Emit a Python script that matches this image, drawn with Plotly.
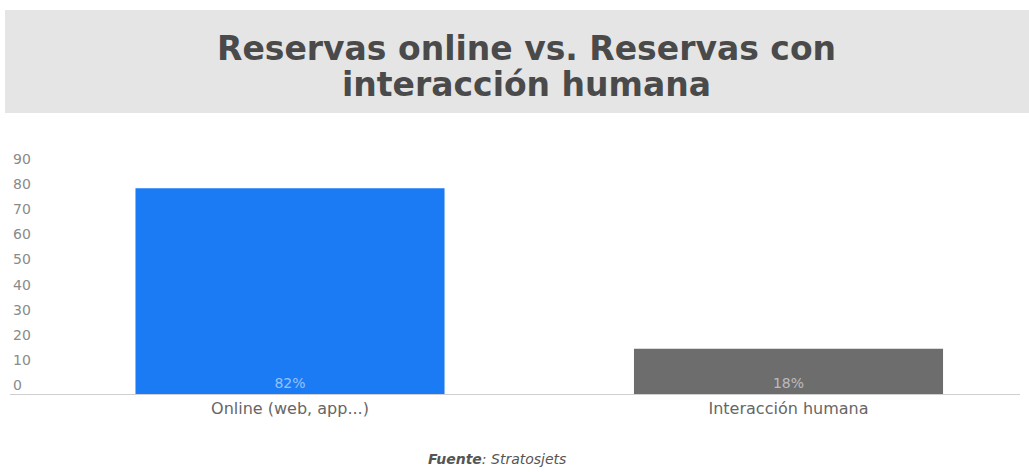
import plotly.graph_objects as go

categories = ["Online (web, app...)", "Interacción humana"]
values = [82, 18]
labels = ["82%", "18%"]
colors = ["#1a7bf4", "#6d6d6d"]
y_ticks = [0, 10, 20, 30, 40, 50, 60, 70, 80, 90]
title_lines = ["Reservas online vs. Reservas con", "interacción humana"]

W, H = 1029, 472
YMAX = 102
base_px = 394
px_per_unit = 2.51
top_px = base_px - YMAX * px_per_unit
L, R, T, B = 10, 9, top_px, H - base_px
pw, ph = W - L - R, H - T - B

def px(x):
    return (x - L) / pw

def py(y):
    return (H - B - y) / ph

FONT = "DejaVu Sans"

fig = go.Figure(go.Bar(
    x=[0, 1], y=values, text=labels,
    marker=dict(color=colors, line=dict(width=0)),
    textposition="inside", insidetextanchor="start",
    textfont=dict(family=FONT, size=14, color="rgba(255,255,255,0.55)"),
    hoverinfo="skip",
))

# category centers at px 290 and 788.5
unit = 498.5
x0 = -(290 - L) / unit
x1 = x0 + pw / unit

fig.update_layout(
    width=W, height=H,
    margin=dict(l=L, r=R, t=T, b=B),
    paper_bgcolor="white", plot_bgcolor="white",
    bargap=0.38, showlegend=False,
    font=dict(family=FONT),
    xaxis=dict(range=[x0, x1], tickmode="array", tickvals=[0, 1], ticktext=categories,
               showgrid=False, zeroline=False, showline=True, linecolor="#cfcfcf",
               linewidth=1, ticks="", tickfont=dict(size=16, color="#666666")),
    yaxis=dict(range=[0, YMAX], tickmode="array", tickvals=y_ticks,
               ticktext=[str(v) for v in y_ticks], showgrid=False, zeroline=False,
               showline=False, ticks="", ticklabelposition="inside", ticklabelshift=-9,
               ticklabelstandoff=0, tickfont=dict(size=14, color="#8a8a8a")),
    shapes=[dict(type="rect", xref="paper", yref="paper",
                 x0=px(5), x1=px(1032), y0=py(113), y1=py(10),
                 fillcolor="#e5e5e5", line=dict(width=0), layer="below")],
    annotations=[
        dict(xref="paper", yref="paper", x=px(526), y=py(48), xanchor="center", yanchor="middle",
             text="<b>" + title_lines[0] + "</b>", showarrow=False,
             font=dict(family=FONT, size=33, color="#4a4a4a")),
        dict(xref="paper", yref="paper", x=px(526), y=py(84), xanchor="center", yanchor="middle",
             text="<b>" + title_lines[1] + "</b>", showarrow=False,
             font=dict(family=FONT, size=33, color="#4a4a4a")),
        dict(xref="paper", yref="paper", x=px(497), y=py(459), xanchor="center", yanchor="middle",
             text="<b><i>Fuente</i></b><i>: Stratosjets</i>", showarrow=False,
             font=dict(family=FONT, size=14, color="#555555")),
    ],
)

fig.write_html("out.html")
